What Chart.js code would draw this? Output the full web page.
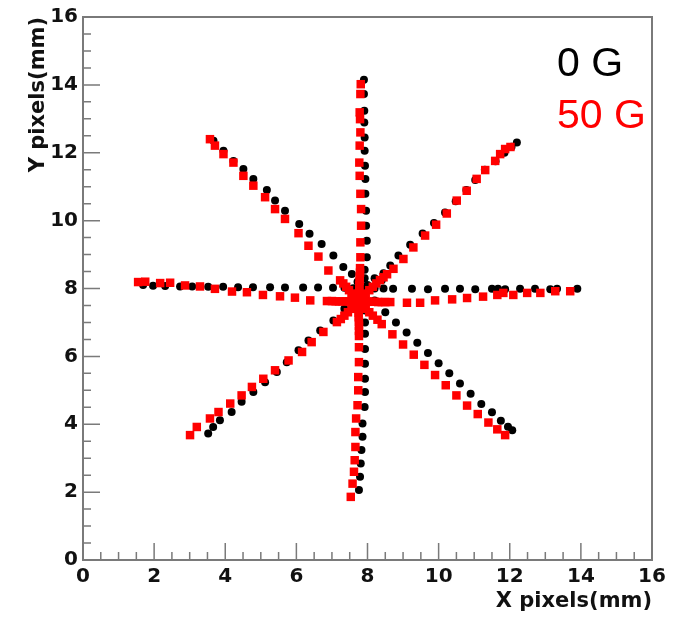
<!DOCTYPE html>
<html lang="en">
<head>
<meta charset="UTF-8">
<title>X/Y pixels star pattern</title>
<script src="https://cdn.jsdelivr.net/npm/chart.js"></script>
<style>
  html, body { margin: 0; padding: 0; background: #fff; }
  #wrap { width: 675px; height: 619px; }
</style>
</head>
<body>
<div id="wrap"><canvas id="chart" width="675" height="619"></canvas></div>
<script>
// tick labels on both axes
const xTickValues = [0, 2, 4, 6, 8, 10, 12, 14, 16];
const yTickValues = [0, 2, 4, 6, 8, 10, 12, 14, 16];
const seriesNames = ['0 G', '50 G'];

// 0 G points [x, y] (mm)
const points0G = [
  // left arm
  [1.69, 8.10], [1.97, 8.08], [2.31, 8.07], [2.73, 8.06], [3.07, 8.06], [3.52, 8.05], [3.94, 8.05], [4.36, 8.04],
  [4.78, 8.04], [5.26, 8.04], [5.68, 8.03], [6.19, 8.03], [6.61, 8.03], [7.03, 8.02], [7.35, 8.02], [7.60, 8.01],
  // right arm
  [8.20, 8.00], [8.45, 8.00], [8.72, 7.99], [9.25, 7.99], [9.70, 7.98], [10.18, 7.99], [10.60, 7.99], [11.03, 7.98],
  [11.50, 7.99], [11.67, 7.99], [11.87, 7.98], [12.29, 7.99], [12.71, 7.99], [13.14, 7.98], [13.33, 7.99], [13.90, 7.99],
  // up arm
  [7.92, 8.30], [7.92, 8.55], [7.98, 8.92], [7.98, 9.41], [7.96, 9.85], [7.96, 10.29], [7.94, 10.79], [7.94, 11.23],
  [7.93, 11.62], [7.92, 12.06], [7.92, 12.45], [7.91, 12.89], [7.91, 13.24], [7.90, 13.73], [7.90, 14.15],
  // down arm
  [7.93, 7.70], [7.93, 7.35], [7.93, 7.00], [7.93, 6.67], [7.93, 6.22], [7.93, 5.78], [7.93, 5.34], [7.93, 4.95],
  [7.92, 4.51], [7.86, 4.02], [7.86, 3.63], [7.83, 3.24], [7.81, 2.84], [7.79, 2.45], [7.76, 2.06],
  // upper-left arm
  [3.67, 12.35], [3.95, 12.06], [4.23, 11.76], [4.51, 11.52], [4.79, 11.23], [5.17, 10.90], [5.40, 10.59], [5.68, 10.29],
  [6.08, 9.90], [6.37, 9.61], [6.71, 9.31], [7.04, 8.97], [7.32, 8.63], [7.56, 8.43], [7.72, 8.20],
  // upper-right arm
  [8.20, 8.30], [8.40, 8.24], [8.45, 8.45], [8.64, 8.68], [8.87, 8.97], [9.20, 9.29], [9.55, 9.62], [9.87, 9.93], [10.18, 10.24],
  [10.48, 10.57], [10.78, 10.90], [11.03, 11.20], [11.30, 11.50], [11.60, 11.75], [11.85, 12.00], [12.05, 12.18], [12.20, 12.30],
  // lower-left arm
  [3.52, 3.73], [3.66, 3.92], [3.85, 4.12], [4.18, 4.36], [4.46, 4.66], [4.79, 4.95], [5.12, 5.24], [5.45, 5.54],
  [5.73, 5.83], [6.06, 6.18], [6.34, 6.47], [6.67, 6.76], [7.04, 7.06], [7.35, 7.40], [7.60, 7.70],
  // lower-right arm
  [8.20, 7.65], [8.50, 7.30], [8.80, 7.00], [9.10, 6.70], [9.40, 6.40], [9.70, 6.10], [10.00, 5.80], [10.30, 5.50],
  [10.60, 5.20], [10.90, 4.90], [11.20, 4.60], [11.50, 4.35], [11.75, 4.10], [11.95, 3.93], [12.07, 3.82],
  // centre
  [7.90, 8.00], [8.00, 8.10], [7.80, 8.10]
];

// 50 G points [x, y] (mm)
const points50G = [
  // left arm
  [1.55, 8.19], [1.75, 8.20], [2.17, 8.16], [2.45, 8.17], [2.87, 8.09], [3.29, 8.06], [3.71, 7.99], [4.19, 7.91],
  [4.61, 7.89], [5.06, 7.81], [5.54, 7.77], [5.96, 7.73], [6.39, 7.65], [6.86, 7.63], [7.00, 7.63], [7.10, 7.62],
  [7.20, 7.62], [7.30, 7.62], [7.40, 7.62], [7.50, 7.62], [7.60, 7.62],
  // right arm
  [7.90, 7.62], [8.00, 7.62], [8.10, 7.61], [8.20, 7.61], [8.30, 7.60], [8.40, 7.60], [8.50, 7.60], [8.64, 7.60],
  [9.11, 7.58], [9.48, 7.58], [9.90, 7.65], [10.38, 7.68], [10.80, 7.72], [11.25, 7.76], [11.65, 7.81], [11.82, 7.87],
  [12.10, 7.81], [12.49, 7.87], [12.86, 7.87], [13.28, 7.92], [13.70, 7.92],
  // up arm
  [7.76, 7.72], [7.76, 7.85], [7.77, 7.97], [7.77, 8.10], [7.78, 8.22], [7.78, 8.35], [7.79, 8.47], [7.79, 8.60],
  [7.80, 8.92], [7.80, 9.36], [7.82, 9.85], [7.82, 10.34], [7.80, 10.79], [7.78, 11.32], [7.77, 11.71], [7.78, 12.21],
  [7.80, 12.60], [7.79, 12.99], [7.78, 13.19], [7.80, 13.73], [7.81, 14.02],
  // down arm
  [7.75, 7.52], [7.75, 7.40], [7.75, 7.28], [7.75, 7.15], [7.76, 7.02], [7.76, 6.90], [7.76, 6.75], [7.76, 6.60],
  [7.76, 6.27], [7.76, 5.83], [7.74, 5.39], [7.74, 5.00], [7.72, 4.56], [7.68, 4.17], [7.66, 3.77], [7.66, 3.33],
  [7.64, 2.94], [7.62, 2.60], [7.58, 2.25], [7.53, 1.86],
  // upper-left arm
  [3.57, 12.40], [3.71, 12.21], [3.95, 11.96], [4.23, 11.71], [4.51, 11.32], [4.79, 11.03], [5.12, 10.69], [5.40, 10.34],
  [5.68, 10.05], [6.06, 9.63], [6.34, 9.26], [6.62, 8.94], [6.90, 8.53], [7.23, 8.24], [7.32, 8.15], [7.40, 8.05],
  [7.48, 7.95], [7.55, 7.85], [7.63, 7.72],
  // upper-right arm
  [7.85, 7.73], [7.95, 7.85], [8.05, 7.95], [8.15, 8.05], [8.25, 8.15], [8.35, 8.25], [8.45, 8.33], [8.55, 8.42],
  [8.73, 8.58], [9.01, 8.87], [9.29, 9.21], [9.62, 9.56], [9.93, 9.88], [10.23, 10.21], [10.51, 10.59], [10.79, 10.88],
  [11.07, 11.23], [11.31, 11.49], [11.59, 11.76], [11.73, 11.96], [11.87, 12.11], [12.02, 12.17],
  // lower-left arm
  [3.01, 3.68], [3.20, 3.92], [3.57, 4.17], [3.81, 4.36], [4.14, 4.61], [4.46, 4.85], [4.75, 5.10], [5.07, 5.34],
  [5.40, 5.59], [5.78, 5.88], [6.16, 6.13], [6.43, 6.42], [6.76, 6.72], [7.14, 7.01], [7.25, 7.10], [7.35, 7.20],
  [7.45, 7.30], [7.55, 7.40], [7.65, 7.50],
  // lower-right arm
  [7.85, 7.50], [7.95, 7.40], [8.05, 7.30], [8.15, 7.20], [8.28, 7.08], [8.40, 6.95], [8.70, 6.65], [9.00, 6.35],
  [9.30, 6.05], [9.60, 5.75], [9.90, 5.45], [10.20, 5.15], [10.50, 4.85], [10.80, 4.55], [11.10, 4.30], [11.40, 4.05],
  [11.65, 3.85], [11.87, 3.68],
  // centre
  [7.75, 7.62], [7.70, 7.70], [7.80, 7.55]
];

const toXY = pts => pts.map(p => ({ x: p[0], y: p[1] }));

// inward ticks + frame, ROOT style
const frameTicks = {
  id: 'frameTicks',
  afterDatasetsDraw(chart) {
    const { ctx, chartArea: a, scales: { x, y } } = chart;
    ctx.save();
    ctx.strokeStyle = '#7a7a7a';
    ctx.lineWidth = 2;
    ctx.strokeRect(a.left, a.top, a.right - a.left, a.bottom - a.top);
    ctx.lineWidth = 1.5;
    ctx.beginPath();
    for (let v = 0; v <= 16; v += 0.5) {
      const len = v % 2 === 0 ? 17 : 8;
      const px = x.getPixelForValue(v);
      ctx.moveTo(px, a.bottom);
      ctx.lineTo(px, a.bottom - len);
      const py = y.getPixelForValue(v);
      ctx.moveTo(a.left, py);
      ctx.lineTo(a.left + len, py);
    }
    ctx.stroke();
    ctx.restore();
  }
};

// legend as plain coloured text in the top right
const textLegend = {
  id: 'textLegend',
  afterDraw(chart) {
    const { ctx, chartArea: a } = chart;
    ctx.save();
    ctx.font = '41px "Liberation Sans", Arial, sans-serif';
    ctx.textAlign = 'left';
    ctx.textBaseline = 'alphabetic';
    ctx.fillStyle = '#000';
    ctx.fillText(seriesNames[0], a.right - 95, a.top + 59);
    ctx.fillStyle = '#ff0000';
    ctx.fillText(seriesNames[1], a.right - 95, a.top + 111);
    ctx.restore();
  }
};

const tickFont = { family: '"DejaVu Sans", sans-serif', size: 20, weight: 'bold' };
const titleFont = { family: '"DejaVu Sans", sans-serif', size: 21, weight: 'bold', lineHeight: 1.2 };

new Chart(document.getElementById('chart'), {
  type: 'scatter',
  data: {
    datasets: [
      {
        label: seriesNames[1],
        data: toXY(points50G),
        pointStyle: 'rect',
        pointRadius: 6,
        backgroundColor: '#ff0000',
        borderWidth: 0,
        order: 0
      },
      {
        label: seriesNames[0],
        data: toXY(points0G),
        pointStyle: 'circle',
        pointRadius: 4,
        backgroundColor: '#000000',
        borderWidth: 0,
        order: 1
      }
    ]
  },
  options: {
    responsive: false,
    animation: false,
    layout: { padding: { top: 16, right: 23, left: 0, bottom: 0 } },
    plugins: { legend: { display: false }, tooltip: { enabled: false } },
    scales: {
      x: {
        type: 'linear',
        min: 0, max: 16,
        afterBuildTicks: s => { s.ticks = xTickValues.map(v => ({ value: v })); },
        afterFit: s => { s.height = 59; },
        grid: { display: false, drawTicks: false },
        border: { display: false },
        ticks: { font: tickFont, color: '#111', padding: 5, maxRotation: 0 },
        title: { display: true, text: 'X pixels(mm)', align: 'end', font: titleFont, color: '#111', padding: { top: 0, bottom: 5 } }
      },
      y: {
        type: 'linear',
        min: 0, max: 16,
        afterBuildTicks: s => { s.ticks = yTickValues.map(v => ({ value: v })); },
        afterFit: s => { s.width = 83; },
        grid: { display: false, drawTicks: false },
        border: { display: false },
        ticks: { font: tickFont, color: '#111', padding: 5 },
        title: { display: true, text: 'Y pixels(mm)', align: 'end', font: titleFont, color: '#111', padding: { top: 26, bottom: 0 } }
      }
    }
  },
  plugins: [frameTicks, textLegend]
});
</script>
</body>
</html>
